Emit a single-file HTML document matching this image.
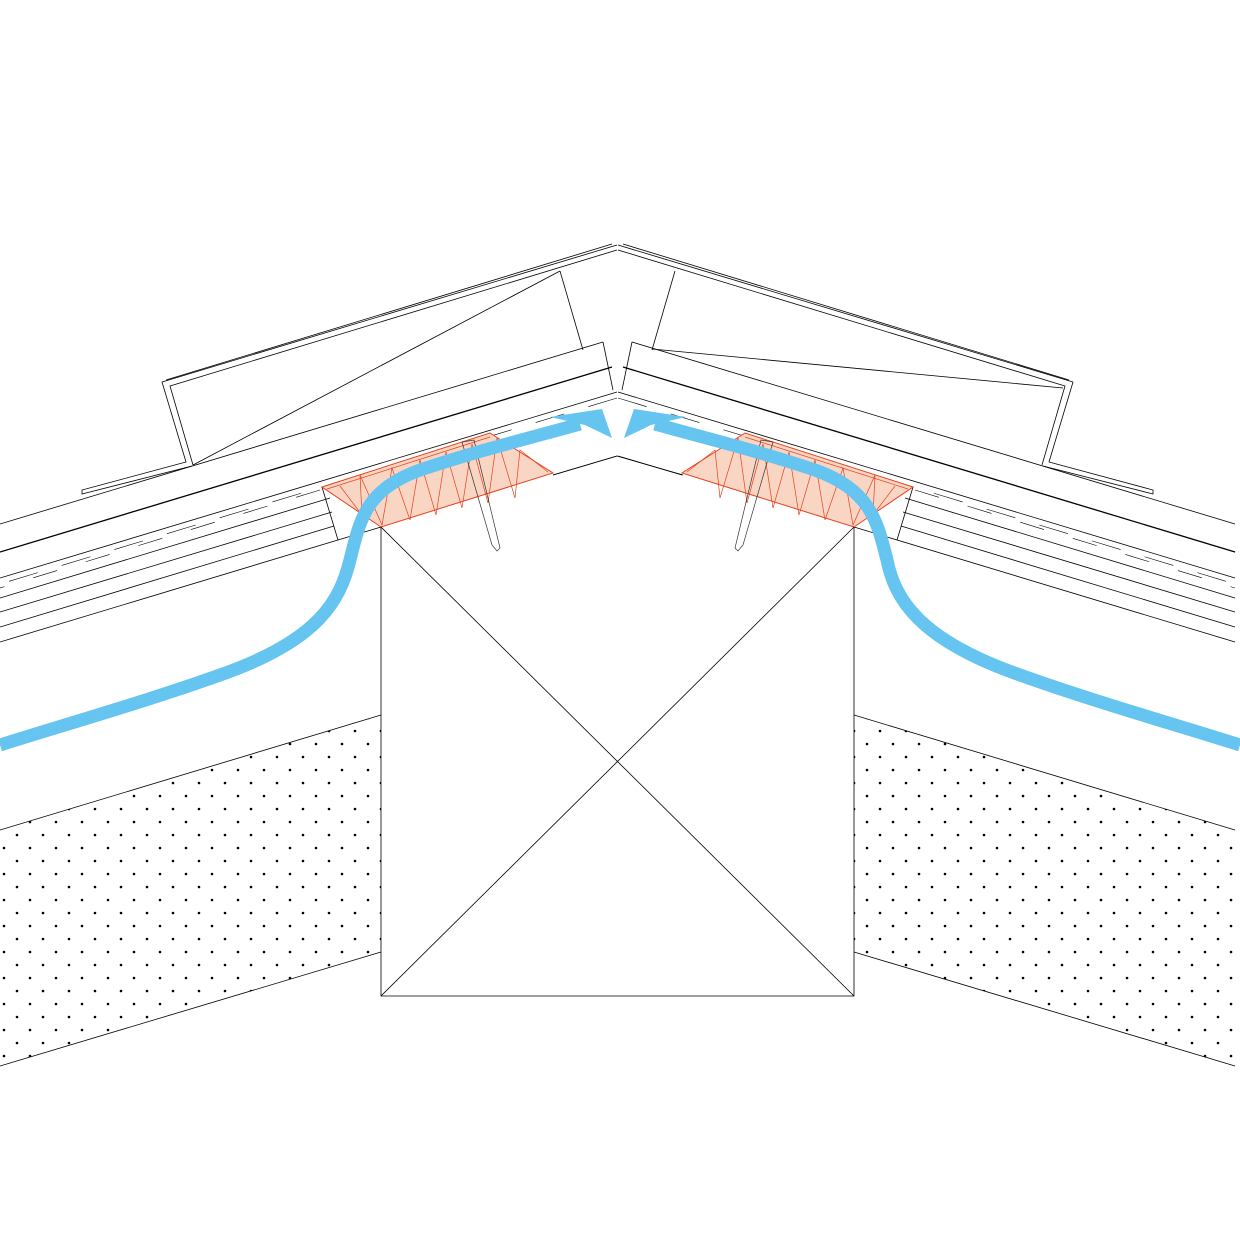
<!DOCTYPE html>
<html><head><meta charset="utf-8"><style>html,body{margin:0;padding:0;background:#fff}svg{display:block}</style></head>
<body>
<svg width="1240" height="1240" viewBox="0 0 1240 1240" xmlns="http://www.w3.org/2000/svg">
<defs>
<pattern id="dots" patternUnits="userSpaceOnUse" width="26" height="26">
<circle cx="4" cy="16" r="1.3" fill="#000"/>
<circle cx="17" cy="3" r="1.3" fill="#000"/>
</pattern>
<g id="half" fill="none" stroke="#000" stroke-width="0.8">
<polygon points="381,715 0,830 0,1066 381,952" fill="url(#dots)" stroke="none"/>
<line x1="381" y1="715" x2="0" y2="830"/>
<line x1="381" y1="952" x2="0" y2="1066"/>
<polyline points="617,245 162,382 186,462 82,490 82,494 192,466"/>
<polyline points="617,250 170,386 193,465"/>
<polyline points="612,244 166,380"/>
<line x1="560" y1="271" x2="583" y2="350"/>
<line x1="603" y1="342" x2="0" y2="524"/>
<line x1="603" y1="342" x2="613" y2="390"/>
<line x1="612" y1="367" x2="0" y2="552" stroke-width="1.3"/>
<line x1="617" y1="392" x2="0" y2="578"/>
<line x1="617" y1="398" x2="0" y2="584" stroke-dasharray="30,25" stroke-width="0.6"/>
<polyline points="617,456 553,475"/>
<line x1="322" y1="487" x2="338" y2="540"/>
<line x1="330" y1="498" x2="0" y2="598"/>
<line x1="332" y1="512" x2="0" y2="612"/>
<line x1="334" y1="526" x2="0" y2="627"/>
<line x1="381" y1="527" x2="0" y2="642"/>
<line x1="320" y1="490" x2="0" y2="588" stroke-dasharray="25,30" stroke-width="0.6"/>
<polygon points="322,487 490,433 553,473 381,527" fill="#f9d6c4" stroke="#e8401c" stroke-width="1"/>
<polyline points="327,489 490,437" stroke="#e8401c" stroke-width="0.7"/>
<polyline points="340,486 362,515 360,475 382,525 392,468 410,520 420,460 436,515 446,452 462,508 472,444 488,503 497,438 515,498 520,450 548,472" stroke="#e8401c" stroke-width="0.7"/>
<polygon points="462,442 474,440 500,548 497,551 492,545" fill="none" stroke="#333" stroke-width="0.7"/>
</g>
</defs>
<use href="#half"/>
<use href="#half" transform="translate(1235,0) scale(-1,1)"/>
<g fill="none" stroke="#000" stroke-width="0.8">
<line x1="560" y1="271" x2="193" y2="465"/>
<line x1="652" y1="349" x2="1063" y2="388"/>
<polyline points="553,475 617,456 683,475"/>
<polyline points="381,527 381,996 854,996 854,527"/>
<line x1="381" y1="527" x2="854" y2="996"/>
<line x1="854" y1="527" x2="381" y2="996"/>
</g>
<g fill="none" stroke="#65c4f0" stroke-width="13" stroke-linecap="butt">
<path d="M0,745 C80,720 150,700 220,675 C320,640 340,600 350,560 C360,520 365,490 420,470 C480,450 530,438 580,424"/>
<path d="M1240,745 C1160,720 1090,700 1020,675 C920,640 895,600 887,560 C877,520 870,490 815,470 C755,450 705,438 655,424"/>
</g>
<polygon points="612,438 602,409 550,417 585,425" fill="#65c4f0"/>
<polygon points="624,438 634,409 686,417 651,425" fill="#65c4f0"/>
</svg>
</body></html>
